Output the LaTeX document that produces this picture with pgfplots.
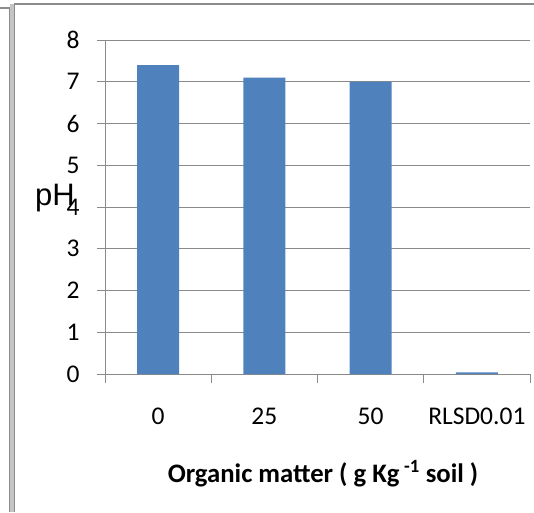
\documentclass[border=0pt]{standalone}
\usepackage{fontspec}
\setmainfont{Carlito}
\newfontfamily\phfont{Liberation Sans}
\usepackage{pgfplots}
\pgfplotsset{compat=1.18}

\definecolor{barblue}{HTML}{4F81BD}
\definecolor{gridgray}{HTML}{8A8A8A}
\definecolor{framedark}{HTML}{8C8C8C}
\definecolor{framelight}{HTML}{C4C4C4}

\begin{document}
\begin{tikzpicture}[x=1pt,y=1pt]
\useasboundingbox (0,0) rectangle (534,512);
% chart frame
\fill[framelight] (10,0) rectangle (14,508);
\draw[framedark, line width=1.2pt] (0,504) -- (9.5,504) -- (9.5,0);
\draw[framedark, line width=1.6pt] (14.5,0) -- (14.5,508) -- (534,508);

\begin{axis}[
  at={(105pt,138pt)}, anchor=south west,
  scale only axis, width=425pt, height=334pt,
  xmin=-0.5, xmax=3.5, ymin=0, ymax=8,
  axis lines*=left,
  axis line style={gridgray, line width=1pt},
  ybar, bar width=42pt,
  xtick={0,1,2,3}, xticklabels={0,25,50,RLSD0.01},
  major x tick style={draw=none},
  minor xtick={-0.5,0.5,1.5,2.5,3.5},
  ytick={0,1,...,8},
  ymajorgrids, grid style={gridgray, line width=1pt},
  tick align=outside, major tick length=8pt, minor tick length=9pt,
  tick style={gridgray, line width=1pt},
  tick label style={font=\fontsize{25.5}{25.5}\selectfont, text=black},
  yticklabel style={xshift=-14pt},
  xticklabel style={yshift=-22pt},
  /pgf/number format/assume math mode=true,
  clip=false,
]
\addplot[fill=barblue, draw=none] coordinates {(0,7.4) (1,7.1) (2,7.0) (3,0.04)};
\end{axis}

% axis titles
\node[anchor=base west, inner sep=0pt, font=\phfont\fontsize{31}{31}\selectfont] at (35,307) {pH};
\node[anchor=base, inner sep=0pt, font=\bfseries\fontsize{26.7}{26.7}\selectfont] at (323,30) {Organic matter ( g Kg\,\textsuperscript{-1} soil )};
\end{tikzpicture}
\end{document}
